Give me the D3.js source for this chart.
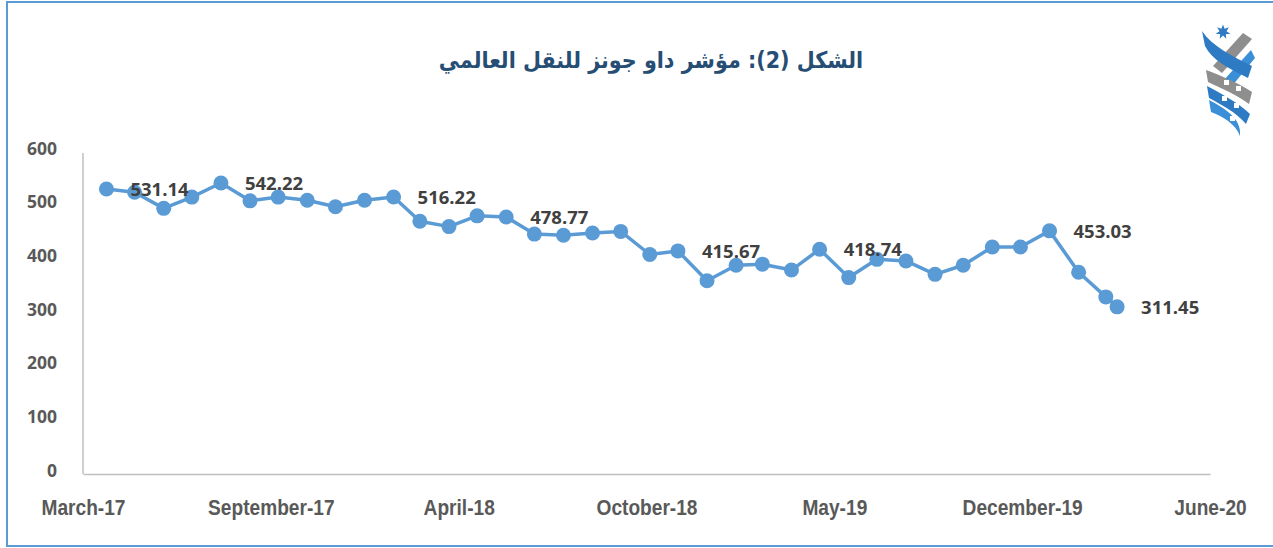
<!DOCTYPE html>
<html>
<head>
<meta charset="utf-8">
<script src="https://cdn.jsdelivr.net/npm/d3@7"></script>
<style>
  html, body { margin: 0; padding: 0; background: #fff; }
  svg { display: block; }
</style>
</head>
<body>
<svg id="chart" width="1273" height="548"></svg>
<script>
// Dow Jones Transportation index, monthly readings
const months = [
  '2017-04-01', '2017-05-01', '2017-06-01', '2017-07-01', '2017-08-01', '2017-09-01',
  '2017-10-01', '2017-11-01', '2017-12-01', '2018-01-01', '2018-02-01', '2018-03-01',
  '2018-04-01', '2018-05-01', '2018-06-01', '2018-07-01', '2018-08-01', '2018-09-01',
  '2018-10-01', '2018-11-01', '2018-12-01', '2019-01-01', '2019-02-01', '2019-03-01',
  '2019-04-01', '2019-05-01', '2019-06-01', '2019-07-01', '2019-08-01', '2019-09-01',
  '2019-10-01', '2019-11-01', '2019-12-01', '2020-01-01', '2020-02-01', '2020-03-01',
  '2020-03-13'
];
const values = [
  531.14, 525, 495, 516, 542.22, 509, 516, 510, 498, 510, 516.22, 471,
  461, 481, 478.77, 447, 445, 449, 452, 409, 415.67, 360, 389, 391,
  380, 418.74, 366, 400, 397, 372, 389, 423, 423, 453.03, 376, 330,
  311.45
];
// points that carry a value label
const labelIdx = [0, 4, 10, 14, 20, 25, 33, 36];

const xDomain = ['2017-03-07', '2020-06-20'];
const xTickLabels = ['March-17', 'September-17', 'April-18', 'October-18', 'May-19', 'December-19', 'June-20'];
const yTicks = [0, 100, 200, 300, 400, 500, 600];

const title = 'الشكل (2): مؤشر داو جونز للنقل العالمي';

const COLORS = {
  line: '#5b9bd5',
  axis: '#bfbfbf',
  tick: '#595959',
  label: '#404040',
  title: '#264d74',
  frame: '#5b9bd5'
};

const parse = d3.utcParse('%Y-%m-%d');
const data = months.map((m, i) => ({ date: parse(m), value: values[i], i }));

const svg = d3.select('#chart');

svg.append('rect')
  .attr('width', 1273).attr('height', 548)
  .attr('fill', '#fff');

// outer frame (right edge is cut off in the picture)
svg.append('rect')
  .attr('x', 7).attr('y', 2)
  .attr('width', 1280).attr('height', 544)
  .attr('fill', 'none')
  .attr('stroke', COLORS.frame)
  .attr('stroke-width', 2);

const x = d3.scaleUtc()
  .domain(xDomain.map(parse))
  .range([83, 1210]);

const y = d3.scaleLinear()
  .domain([0, 600])
  .range([474, 152]);

// tick dates are evenly spaced across the domain, like the spreadsheet's date axis
const [t0, t1] = x.domain().map(d => +d);
const xTickDates = xTickLabels.map((_, k) => new Date(t0 + k * (t1 - t0) / (xTickLabels.length - 1)));

// y axis
const yAxis = svg.append('g')
  .attr('transform', 'translate(83,0)')
  .call(d3.axisLeft(y).tickValues(yTicks).tickSize(0).tickPadding(26));
yAxis.select('.domain').remove();
yAxis.selectAll('text')
  .attr('dy', '0.12em')
  .style('font-family', '"Open Sans", "Noto Sans", sans-serif')
  .style('font-size', '17.5px')
  .style('font-weight', '700')
  .style('fill', COLORS.tick);

svg.append('line')
  .attr('x1', 83).attr('x2', 83)
  .attr('y1', y(600) + 1).attr('y2', y(0))
  .attr('stroke', COLORS.axis)
  .attr('stroke-width', 1.5);

// x axis
const xAxis = svg.append('g')
  .attr('transform', `translate(0,${y(0)})`)
  .call(d3.axisBottom(x)
    .tickValues(xTickDates)
    .tickFormat((d, i) => xTickLabels[i])
    .tickSize(0));
xAxis.select('.domain')
  .attr('stroke', COLORS.axis)
  .attr('stroke-width', 1.5);
// narrow lettering: squeeze horizontally around each tick
xAxis.selectAll('text')
  .attr('y', 33)
  .attr('dy', '0.35em')
  .attr('transform', 'scale(0.87,1)')
  .style('font-family', '"Liberation Sans", Arial, sans-serif')
  .style('font-size', '22px')
  .style('font-weight', '700')
  .style('fill', COLORS.tick);

// series line
const line = d3.line()
  .x(d => x(d.date))
  .y(d => y(d.value));

svg.append('path')
  .datum(data)
  .attr('d', line)
  .attr('fill', 'none')
  .attr('stroke', COLORS.line)
  .attr('stroke-width', 3.5)
  .attr('stroke-linejoin', 'round');

svg.append('g')
  .selectAll('circle')
  .data(data)
  .join('circle')
  .attr('cx', d => x(d.date))
  .attr('cy', d => y(d.value))
  .attr('r', 7.5)
  .attr('fill', COLORS.line);

// value labels, right of the point
svg.append('g')
  .selectAll('text')
  .data(data.filter(d => labelIdx.includes(d.i)))
  .join('text')
  .attr('x', d => x(d.date) + 24)
  .attr('y', d => y(d.value))
  .attr('dy', '0.36em')
  .text(d => d.value.toFixed(2))
  .style('font-family', '"Open Sans", "Noto Sans", sans-serif')
  .style('font-size', '18.5px')
  .style('font-weight', '700')
  .style('fill', COLORS.label);

// title
svg.append('text')
  .attr('transform', 'translate(651,60) scale(0.9,1)')
  .attr('dy', '0.35em')
  .attr('text-anchor', 'middle')
  .attr('direction', 'rtl')
  .text(title)
  .style('font-family', '"DejaVu Sans", sans-serif')
  .style('font-size', '23px')
  .style('font-weight', '700')
  .style('fill', COLORS.title);

// emblem, top right
const logo = svg.append('g').attr('class', 'logo');
const blue = '#2e7bc4', lightBlue = '#3a8fd6', gray = '#8e8e8e';

// seven pointed star
const starPts = d3.range(14).map(k => {
  const a = -Math.PI / 2 + k * Math.PI / 7;
  const r = k % 2 === 0 ? 7.5 : 3.6;
  return [1223 + r * Math.cos(a), 32 + r * Math.sin(a)];
});
logo.append('polygon')
  .attr('points', starPts.map(p => p.join(',')).join(' '))
  .attr('fill', blue);

const shapes = [
  // gray strokes rising to the right
  { d: 'M1243,33 L1252,39 L1222,73 L1213,66 Z', fill: gray },
  { d: 'M1251,50 L1255,58 L1232,86 L1224,80 Z', fill: lightBlue },
  // top blue swoosh
  { d: 'M1202,31 C1212,46 1232,56 1252,66 L1248,78 C1228,68 1212,60 1205,46 Z', fill: blue },
  // gray band with windows
  { d: 'M1206,70 C1222,76 1240,84 1252,92 L1249,104 C1236,94 1220,88 1208,82 Z', fill: gray },
  // blue band
  { d: 'M1207,86 C1222,94 1240,104 1250,114 L1246,124 C1236,112 1220,104 1209,98 Z', fill: blue },
  // tapering tail
  { d: 'M1209,100 C1224,108 1242,118 1240,136 C1236,124 1222,116 1211,112 Z', fill: lightBlue }
];
logo.selectAll('path')
  .data(shapes)
  .join('path')
  .attr('d', d => d.d)
  .attr('fill', d => d.fill);

// little square windows in the bands
const windows = [[1224, 80], [1236, 86], [1222, 96], [1234, 103], [1230, 116]];
logo.selectAll('rect.win')
  .data(windows)
  .join('rect')
  .attr('class', 'win')
  .attr('x', d => d[0]).attr('y', d => d[1])
  .attr('width', 5).attr('height', 5)
  .attr('fill', '#fff');
</script>
</body>
</html>
